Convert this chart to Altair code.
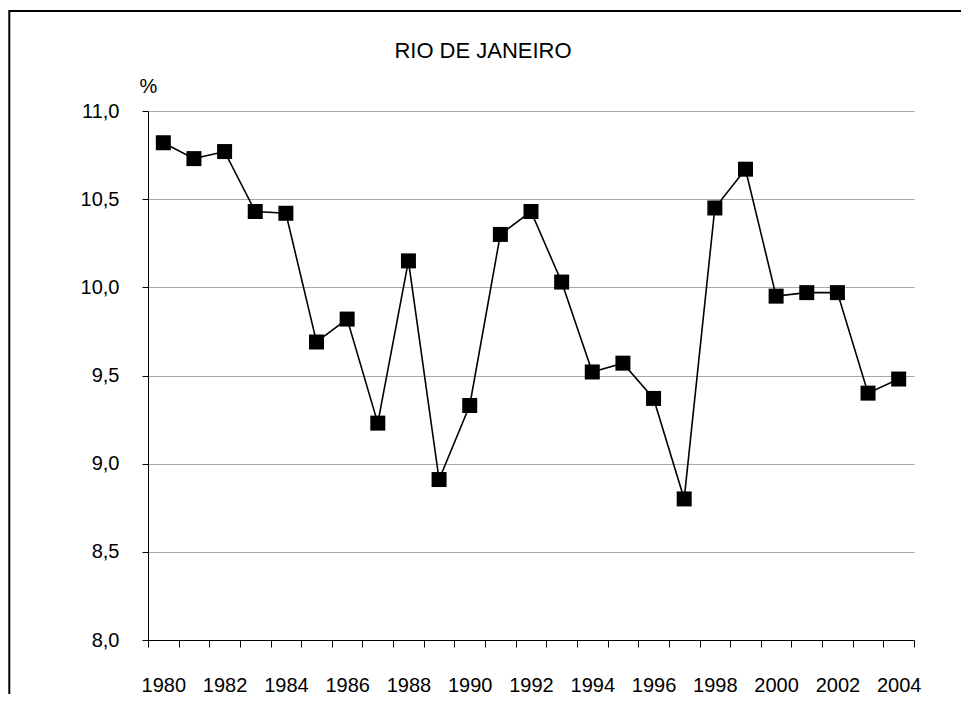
import altair as alt
import pandas as pd

TITLE = "RIO DE JANEIRO"
Y_UNIT = "%"
years = list(range(1980, 2005))
values = [10.82, 10.73, 10.77, 10.43, 10.42, 9.69, 9.82, 9.23, 10.15, 8.91,
          9.33, 10.30, 10.43, 10.03, 9.52, 9.57, 9.37, 8.80, 10.45, 10.67,
          9.95, 9.97, 9.97, 9.40, 9.48]
y_ticks = [8.0, 8.5, 9.0, 9.5, 10.0, 10.5, 11.0]

FONT = "Liberation Sans"
df = pd.DataFrame({"year": years, "value": values})

x_enc = alt.X(
    "year:O",
    scale=alt.Scale(type="band", paddingInner=0, paddingOuter=0),
    axis=alt.Axis(
        title=None, labelAngle=0, grid=False, tickBand="extent",
        tickSize=7, tickColor="black", domainColor="black",
        labelFontSize=20, labelFont=FONT, labelColor="black",
        labelPadding=28, labelOverlap=False,
        labelExpr="datum.value % 2 == 0 ? datum.label : ''",
    ),
)
y_enc = alt.Y(
    "value:Q",
    scale=alt.Scale(domain=[8, 11], nice=False, zero=False),
    axis=alt.Axis(
        values=y_ticks, title=Y_UNIT, titleAngle=0, titleX=0, titleY=-19,
        titleAlign="center", titleBaseline="alphabetic", titleFontWeight="normal",
        titleFontSize=20, titleFont=FONT, titleColor="black",
        labelExpr="replace(format(datum.value, '.1f'), '.', ',')",
        labelFontSize=20, labelFont=FONT, labelColor="black", labelPadding=23,
        tickSize=6, tickColor="black", domainColor="black",
        gridColor="#a8a8a8", gridWidth=1.2,
    ),
)

base = alt.Chart(df)
line = base.mark_line(color="black", strokeWidth=1.6).encode(x=x_enc, y=y_enc)
pts = base.mark_point(shape="square", filled=True, size=225, color="black",
                      opacity=1).encode(x=x_enc, y=y_enc)

frame = alt.Chart(pd.DataFrame({"a": [0]})).mark_rect(
    fill=None, stroke="black", strokeWidth=2
).encode(x=alt.value(-138.7), x2=alt.value(2000), y=alt.value(-100), y2=alt.value(2000))

title = alt.Chart(pd.DataFrame({"t": [TITLE]})).mark_text(
    font=FONT, fontSize=22, color="black", align="center", baseline="alphabetic"
).encode(text="t:N", x=alt.value(335), y=alt.value(-52.7))

chart = alt.layer(frame, line, pts, title).properties(
    width=766, height=529,
    autosize=alt.AutoSizeParams(type="none"),
    padding={"left": 140, "top": 103, "right": 47, "bottom": 54},
).configure_view(stroke=None)

chart.save("out.html", embed_options={"renderer": "svg", "actions": False})
